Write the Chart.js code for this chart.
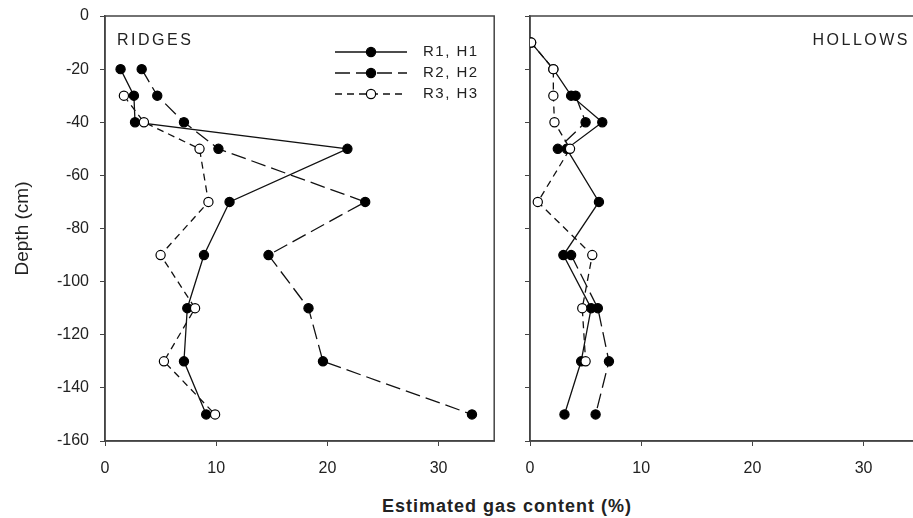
<!DOCTYPE html>
<html lang="en">
<head>
<meta charset="UTF-8">
<title>Estimated gas content - ridges and hollows</title>
<script src="https://cdn.jsdelivr.net/npm/chart.js"></script>
<style>
    html, body { margin: 0; padding: 0; background: #fff; overflow: hidden; }
    #wrap { position: relative; width: 913px; height: 518px; overflow: hidden; }
    #ridges { position: absolute; left: 0; top: 0; }
    #hollows { position: absolute; left: 505px; top: 0; }
    #xtitle {
        position: absolute; left: 307px; width: 400px; top: 496px;
        text-align: center; line-height: 24px; color: #222;
        font: bold 18px "Liberation Sans", Arial, sans-serif; letter-spacing: 1px;
    }
</style>
</head>
<body>
<div id="wrap">
    <canvas id="ridges" width="500" height="480"></canvas>
    <canvas id="hollows" width="420" height="480"></canvas>
    <div id="xtitle">Estimated gas content (%)</div>
</div>
<script>
// depths (cm) and gas content (%)
const ridgeDepths  = [-20, -30, -40, -50, -70, -90, -110, -130, -150];
const hollowDepths = [-10, -20, -30, -40, -50, -70, -90, -110, -130, -150];

const r1 = [1.4, 2.6, 2.7, 21.8, 11.2, 8.9, 7.4, 7.1, 9.1];
const r2 = [3.3, 4.7, 7.1, 10.2, 23.4, 14.7, 18.3, 19.6, 33.0];
const r3 = [null, 1.7, 3.5, 8.5, 9.3, 5.0, 8.1, 5.3, 9.9];

const h1 = [0.1, 2.1, 3.7, 6.5, 3.3, 6.2, 3.0, 5.5, 4.6, 3.1];
const h2 = [null, null, 4.1, 5.0, 2.5, null, 3.7, 6.1, 7.1, 5.9];
const h3 = [0.1, 2.1, 2.1, 2.2, 3.6, 0.7, 5.6, 4.7, 5.0, null];

const seriesLabels = ['R1, H1', 'R2, H2', 'R3, H3'];

const dashes = [[], [15, 6], [7, 5]];
const fills = ['#000', '#000', '#fff'];

Chart.defaults.font.family = '"Liberation Sans", Arial, sans-serif';
Chart.defaults.color = '#222';

function makeDatasets(depths, series) {
    return series.map((vals, i) => ({
        label: seriesLabels[i],
        data: depths.map((d, j) => ({ x: vals[j], y: d })),
        borderColor: '#111',
        borderWidth: 1.3,
        borderDash: dashes[i],
        pointRadius: 4.6,
        pointBorderWidth: 1.2,
        pointBorderColor: '#000',
        pointBackgroundColor: fills[i],
        spanGaps: false,
        tension: 0,
        order: 3 - i
    }));
}

// box around plot area, panel name and (optionally) the legend
const panelPlugin = {
    id: 'panel',
    beforeDatasetsDraw(chart, args, opts) {
        const { ctx, chartArea: a } = chart;
        ctx.save();
        ctx.strokeStyle = '#444';
        ctx.lineWidth = 1.5;
        ctx.strokeRect(a.left, a.top, a.right - a.left, a.bottom - a.top);
        ctx.restore();
    },
    afterDraw(chart, args, opts) {
        const ctx = chart.ctx;
        ctx.save();
        ctx.fillStyle = '#222';
        ctx.font = '16px "Liberation Sans", Arial, sans-serif';
        ctx.letterSpacing = '2.5px';
        ctx.textBaseline = 'middle';
        ctx.textAlign = opts.align;
        ctx.fillText(opts.label, opts.x, 41);

        if (opts.legend) {
            ctx.font = '15px "Liberation Sans", Arial, sans-serif';
            ctx.letterSpacing = '1.5px';
            ctx.textAlign = 'left';
            seriesLabels.forEach((lab, i) => {
                const y = 52 + i * 21;
                ctx.strokeStyle = '#111';
                ctx.lineWidth = 1.3;
                ctx.setLineDash(dashes[i]);
                ctx.beginPath();
                ctx.moveTo(335, y);
                ctx.lineTo(407, y);
                ctx.stroke();
                ctx.setLineDash([]);
                ctx.beginPath();
                ctx.arc(371, y, 4.6, 0, Math.PI * 2);
                ctx.fillStyle = fills[i];
                ctx.fill();
                ctx.lineWidth = 1.2;
                ctx.strokeStyle = '#000';
                ctx.stroke();
                ctx.fillStyle = '#222';
                ctx.fillText(lab, 423, y);
            });
        }
        ctx.restore();
    }
};

function makeScales(withLabels, yWidth) {
    return {
        x: {
            type: 'linear', min: 0, max: 35,
            ticks: { stepSize: 10, includeBounds: false, padding: 13, font: { size: 16 } },
            grid: { drawOnChartArea: false, tickLength: 5, color: '#444' },
            border: { color: '#444', width: 1.5 },
            afterFit(s) { s.height = 39; s.paddingLeft = 0; s.paddingRight = 0; }
        },
        y: {
            type: 'linear', min: -160, max: 0,
            ticks: { stepSize: 20, display: withLabels, padding: 11, font: { size: 16 } },
            grid: { drawOnChartArea: false, tickLength: 5, color: '#444' },
            border: { color: '#444', width: 1.5 },
            title: {
                display: withLabels, text: 'Depth (cm)',
                font: { size: 19 }, padding: { top: 11, bottom: 0 }
            },
            afterFit(s) { s.width = yWidth; s.paddingTop = 0; s.paddingBottom = 0; }
        }
    };
}

function makeChart(id, depths, series, panel, yWidth) {
    return new Chart(document.getElementById(id), {
        type: 'line',
        data: { datasets: makeDatasets(depths, series) },
        options: {
            indexAxis: 'y',
            responsive: false,
            animation: false,
            devicePixelRatio: 1,
            layout: { padding: { top: 16, right: 3, left: 0, bottom: 0 } },
            plugins: {
                legend: { display: false },
                tooltip: { enabled: false },
                panel: panel
            },
            scales: makeScales(panel.legend, yWidth)
        },
        plugins: [panelPlugin]
    });
}

makeChart('ridges', ridgeDepths, [r1, r2, r3],
    { label: 'RIDGES', align: 'left', x: 117, legend: true }, 105);
makeChart('hollows', hollowDepths, [h1, h2, h3],
    { label: 'HOLLOWS', align: 'right', x: 405, legend: false }, 25);
</script>
</body>
</html>
